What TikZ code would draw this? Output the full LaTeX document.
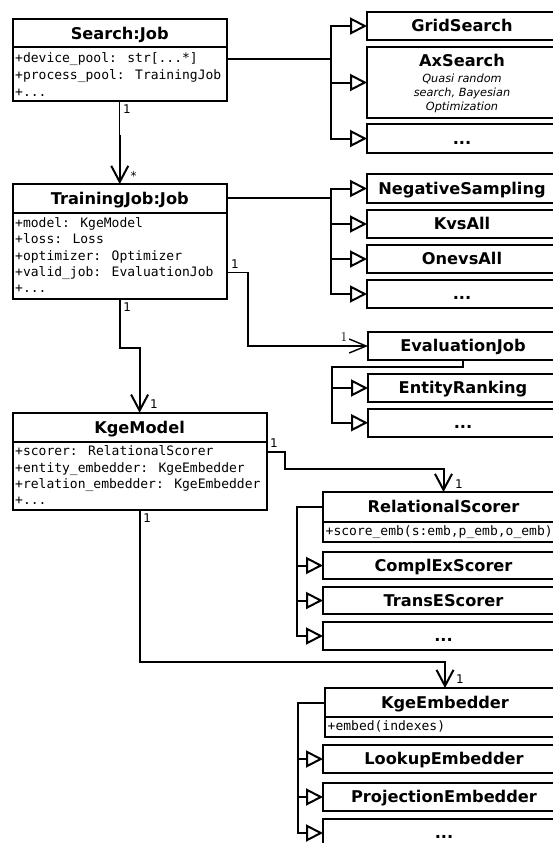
\documentclass[tikz,border=0pt]{standalone}
\usepackage{fontspec}
\setmainfont{DejaVu Sans}
\newfontfamily\monof{DejaVu Sans Mono}
\newfontfamily\lmserif{Latin Modern Roman}
\usetikzlibrary{arrows.meta,calc}
\newcommand\ctitle{\fontsize{16.2}{19}\selectfont\bfseries}
\newcommand\cattr{\monof\fontsize{13}{16}\selectfont}
\newcommand\cital{\fontsize{11.3}{14}\selectfont\itshape}
\newcommand\clab{\fontsize{12}{14}\selectfont}
\begin{document}
\begin{tikzpicture}[x=1pt,y=-1pt,
  cls/.style={draw, line width=2pt, inner sep=0pt, outer sep=0pt, anchor=north west, font=\ctitle, text height=11.8pt, text depth=0pt},
  clsframe/.style={draw, line width=2pt, inner sep=0pt, outer sep=0pt, anchor=north west},
  attr/.style={anchor=base west, inner sep=0pt, font=\cattr},
  ital/.style={anchor=base, inner sep=0pt, font=\cital},
  lab/.style={anchor=base, inner sep=0pt, font=\clab},
  gen/.style={line width=2pt, -{Triangle[open, length=17pt, width=17pt]}},
  assoc/.style={line width=2pt, -{Straight Barb[length=16pt, width=17pt]}},
  thinassoc/.style={line width=1.4pt, -{Straight Barb[length=17pt, width=14pt]}},
]
\useasboundingbox (0,0) rectangle (553,843);
\clip (0,0) rectangle (553,843);

% ---------- Search:Job ----------
\node[clsframe, minimum width=214.5, minimum height=81] (search) at (12.5,19.5) {};
\node[cls, minimum width=214.5, minimum height=28] (searchh) at (12.5,19.5) {Search:Job};
\node[attr] (sa1) at (15,62.7) {+device\_pool: str[...*]};
\node[attr] (sa2) at (15,79.3) {+process\_pool: TrainingJob};
\node[attr] (sa3) at (15,96) {+...};

% search subclasses
\node[cls, minimum width=190, minimum height=28] (grid) at (367,12) {GridSearch};
\node[clsframe, minimum width=190, minimum height=71] (ax) at (367,47) {};
\node[anchor=base, inner sep=0pt, font=\ctitle] (axt) at (462,66.7) {AxSearch};
\node[ital] (ax1) at (462,82.3) {Quasi random};
\node[ital] (ax2) at (462,96.7) {search, Bayesian};
\node[ital] (ax3) at (462,110.7) {Optimization};
\node[cls, minimum width=190, minimum height=29] (sdots) at (367,124) {...};

% ---------- TrainingJob:Job ----------
\node[clsframe, minimum width=214.5, minimum height=115] (tj) at (12.5,184) {};
\node[cls, minimum width=214.5, minimum height=28.7] (tjh) at (12.5,184) {TrainingJob:Job};
\node[attr] (ta1) at (15,227.3) {+model: KgeModel};
\node[attr] (ta2) at (15,243.7) {+loss: Loss};
\node[attr] (ta3) at (15,260.1) {+optimizer: Optimizer};
\node[attr] (ta4) at (15,276.5) {+valid\_job: EvaluationJob};
\node[attr] (ta5) at (15,292.9) {+...};

% training subclasses
\node[cls, minimum width=190, minimum height=29] (neg) at (367,174) {NegativeSampling};
\node[cls, minimum width=190, minimum height=28] (kvs) at (367,210) {KvsAll};
\node[cls, minimum width=190, minimum height=28] (one) at (367,245) {OnevsAll};
\node[cls, minimum width=190, minimum height=28] (tdots) at (367,280) {...};

% ---------- EvaluationJob ----------
\node[cls, line width=1.5pt, minimum width=190, minimum height=28] (eval) at (368,332) {EvaluationJob};
\node[cls, minimum width=190, minimum height=28] (er) at (368,374) {EntityRanking};
\node[cls, minimum width=190, minimum height=28.5] (edots) at (368,408.5) {...};

% ---------- KgeModel ----------
\node[clsframe, minimum width=254.2, minimum height=97.3] (kge) at (12.5,412.7) {};
\node[cls, minimum width=254.2, minimum height=29] (kgeh) at (12.5,412.7) {KgeModel};
\node[attr] (ka1) at (15,455.7) {+scorer: RelationalScorer};
\node[attr] (ka2) at (15,472.1) {+entity\_embedder: KgeEmbedder};
\node[attr] (ka3) at (15,488.5) {+relation\_embedder: KgeEmbedder};
\node[attr] (ka4) at (15,504.9) {+...};

% ---------- RelationalScorer ----------
\node[clsframe, minimum width=241, minimum height=50] (rs) at (323,492) {};
\node[cls, minimum width=241, minimum height=30] (rsh) at (323,492) {RelationalScorer};
\node[attr] (ra1) at (325.5,535) {+score\_emb(s:emb,p\_emb,o\_emb)};
\node[cls, minimum width=241, minimum height=27] (cx) at (323,552) {ComplExScorer};
\node[cls, minimum width=241, minimum height=27] (te) at (323,587) {TransEScorer};
\node[cls, minimum width=241, minimum height=28] (rdots) at (323,622) {...};

% ---------- KgeEmbedder ----------
\node[clsframe, minimum width=240, minimum height=49] (ke) at (325,688) {};
\node[cls, minimum width=240, minimum height=29] (keh) at (325,688) {KgeEmbedder};
\node[attr] (ea1) at (327.5,730.7) {+embed(indexes)};
\node[cls, minimum width=242, minimum height=28] (le) at (323,745) {LookupEmbedder};
\node[cls, minimum width=242, minimum height=28] (pe) at (323,783) {ProjectionEmbedder};
\node[cls, minimum width=242, minimum height=28] (kdots) at (323,819) {...};

% ---------- connectors ----------
% Search -> TrainingJob
\draw[line width=1pt] (search.south) -- ([yshift=-34pt]search.south);
\draw[assoc] ([yshift=-34pt]search.south) -- (tj.north);
% Search generalisations
\draw[gen] ([yshift=1.3pt]search.east) -- ++(104,0) |- (grid.west);
\draw[gen] ([yshift=1.3pt]search.east) -- ++(104,0) |- (ax.west);
\draw[gen] ([yshift=1.3pt]search.east) -- ++(104,0) |- (sdots.west);
% TrainingJob generalisations
\draw[gen] (tjh.east) -- ++(104,0) |- (neg.west);
\draw[gen] (tjh.east) -- ++(104,0) |- (kvs.west);
\draw[gen] (tjh.east) -- ++(104,0) |- (one.west);
\draw[gen] (tjh.east) -- ++(104,0) |- (tdots.west);
% TrainingJob -> EvaluationJob
\draw[thinassoc] ([yshift=-31.2pt]tj.east) -- ++(21,0) |- (eval.west);
% EvaluationJob generalisations
\draw[gen] (eval.south) -- ++(0,7) -- ++(-131,0) |- (er.west);
\draw[gen] (eval.south) -- ++(0,7) -- ++(-131,0) |- (edots.west);
% TrainingJob -> KgeModel
\draw[assoc] (tj.south) -- ++(0,49) -| (kge.north);
% KgeModel -> RelationalScorer
\draw[assoc] ([yshift=9.65pt]kge.east) -- ++(18.3,0) -- ++(0,17.3) -| (rs.north);
% RelationalScorer generalisations
\draw[gen] (rsh.west) -- ++(-26,0) |- (cx.west);
\draw[gen] (rsh.west) -- ++(-26,0) |- (te.west);
\draw[gen] (rsh.west) -- ++(-26,0) |- (rdots.west);
% KgeModel -> KgeEmbedder
\draw[assoc] (kge.south) -- ++(0,152) -| (ke.north);
% KgeEmbedder generalisations
\draw[gen] (keh.west) -- ++(-27,0) |- (le.west);
\draw[gen] (keh.west) -- ++(-27,0) |- (pe.west);
\draw[gen] (keh.west) -- ++(-27,0) |- (kdots.west);

% ---------- multiplicities ----------
\node[lab] (m1) at (127,113.4) {1};
\node[lab] (m2) at (133.5,180) {*};
\node[lab] (m3) at (235,268.4) {1};
\node[lab] (m4) at (127.3,311.1) {1};
\node[anchor=base, inner sep=0pt, font=\lmserif\fontsize{13.5}{15}\selectfont] (m5) at (344,341.5) {1};
\node[lab] (m6) at (154,408.4) {1};
\node[lab] (m7) at (274,447.7) {1};
\node[lab] (m8) at (147.3,522.7) {1};
\node[lab] (m9) at (459,488.4) {1};
\node[lab] (m10) at (460,683.4) {1};
\end{tikzpicture}
\end{document}
